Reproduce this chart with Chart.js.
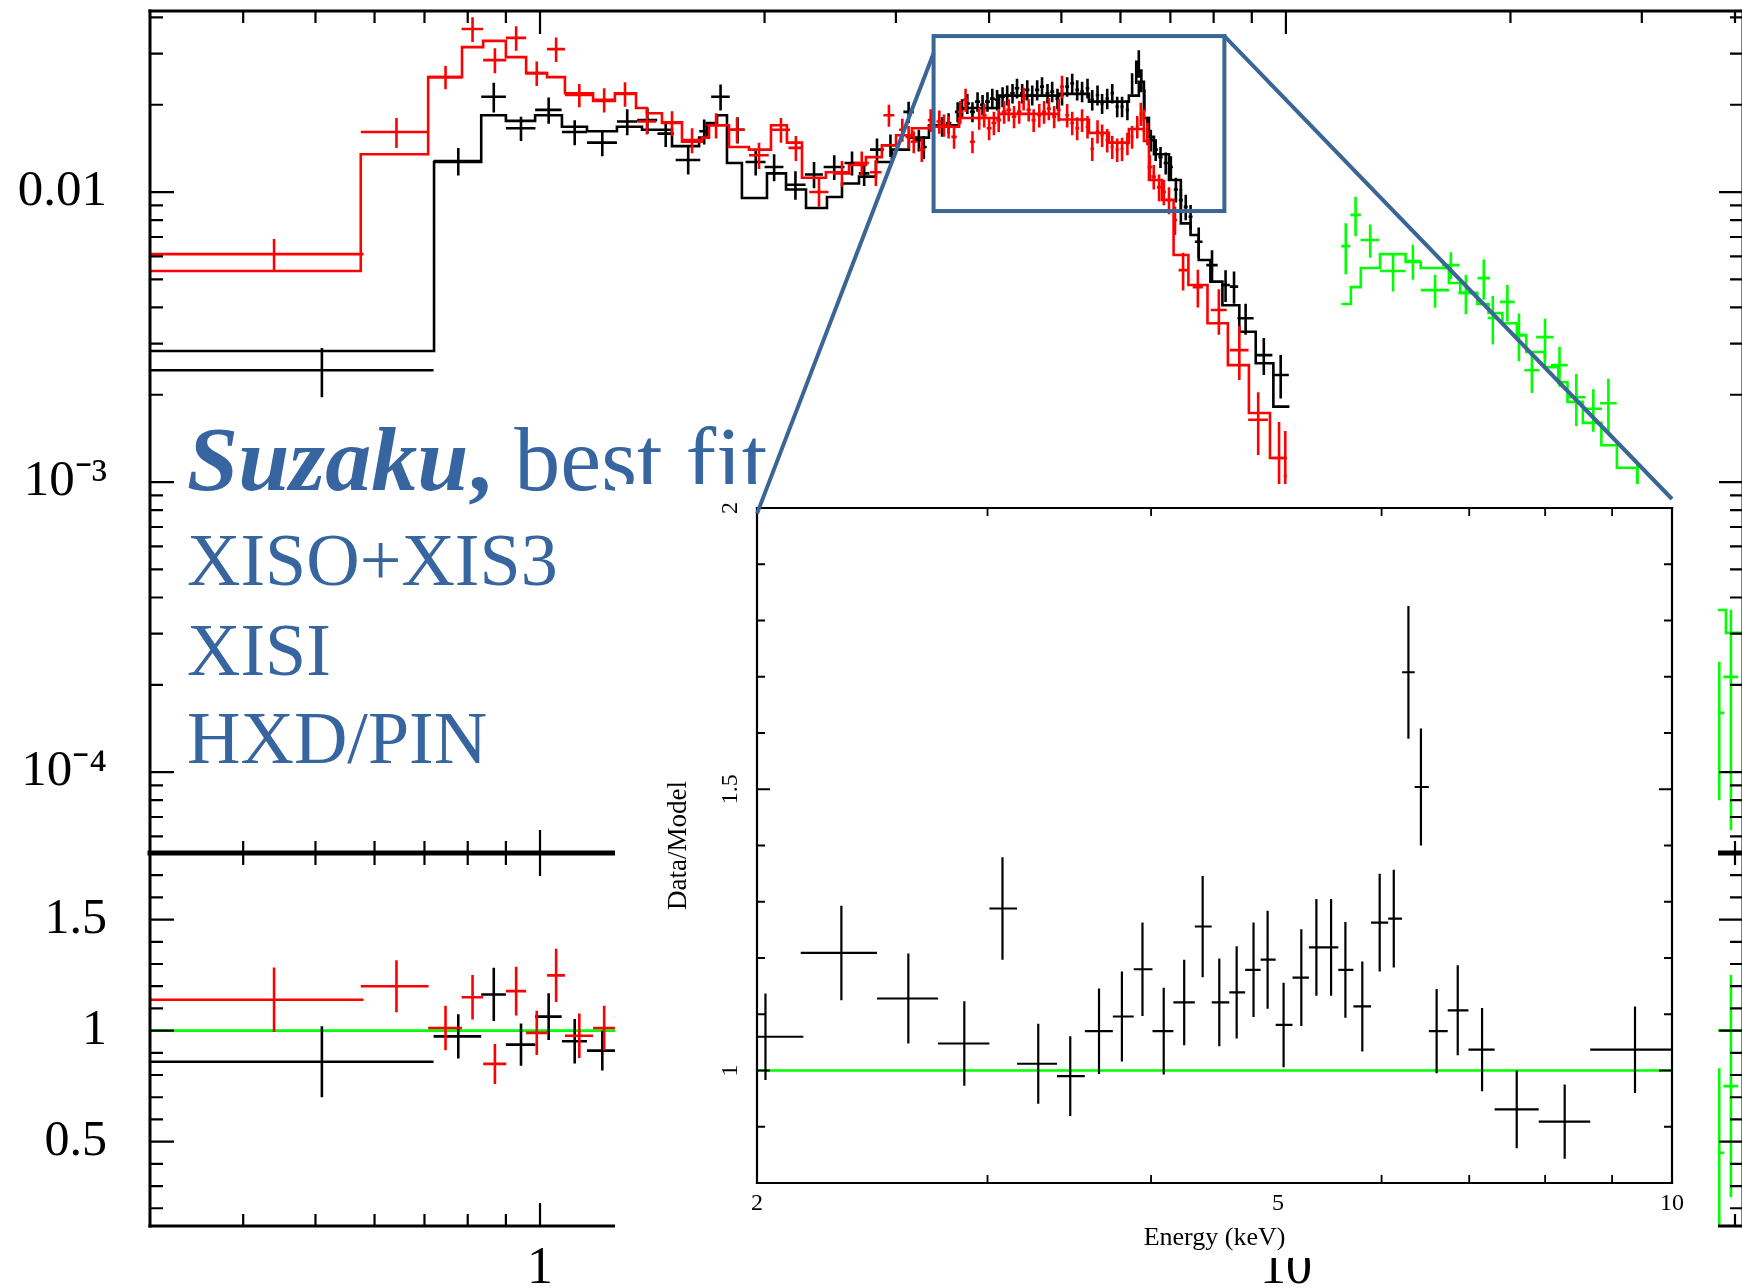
<!DOCTYPE html>
<html>
<head>
<meta charset="utf-8">
<script src="https://cdn.jsdelivr.net/npm/chart.js@4.4.1/dist/chart.umd.min.js"></script>
<style>
  html, body { margin: 0; padding: 0; background: #fff; overflow: hidden; }
  body { width: 1742px; height: 1288px; position: relative; }
  .layer { position: absolute; }
  #topPanel { left: 0; top: 0; z-index: 1; }
  #ratioPanel { left: 0; top: 800px; z-index: 1; }
  .note { position: absolute; z-index: 2; color: #36659f; font-family: "Liberation Serif", "Times New Roman", serif; line-height: 1; white-space: nowrap; }
  #inset { left: 615px; top: 484px; width: 1103px; height: 774px; background: #fff; z-index: 3; }
  #overlay { left: 0; top: 0; z-index: 4; pointer-events: none; }
</style>
</head>
<body>
<canvas id="topPanel" class="layer" width="1760" height="900"></canvas>
<canvas id="ratioPanel" class="layer" width="1760" height="488"></canvas>

<div class="note" style="left:187px; top:413px; font-size:92px;"><b><i>Suzaku</i>,</b> best fit</div>
<div class="note" style="left:187px; top:523px; font-size:74px;">XISO+XIS3</div>
<div class="note" style="left:187px; top:613px; font-size:74px;">XISI</div>
<div class="note" style="left:187px; top:701px; font-size:74px;">HXD/PIN</div>

<div id="inset" class="layer"><canvas id="insetChart" width="1103" height="774"></canvas></div>
<canvas id="overlay" class="layer" width="1742" height="1288"></canvas>

<script>
// axis ranges
const energyRange = [0.3, 41];
const fluxRange = [5.26e-5, 0.0421];
const ratioRange = [0.12, 1.8];
const insetEnergyRange = [2, 10];
const insetRatioRange = [0.8, 2];

// tick marks and tick labels
const energyMajor = [1, 10];
const energyMinor = [0.4, 0.5, 0.6, 0.7, 0.8, 0.9, 2, 3, 4, 5, 6, 7, 8, 9, 20, 30, 40];
const energyLabels = [1, 10];
const fluxMajor = [1e-4, 1e-3, 0.01];
const fluxMinor = [6e-5, 7e-5, 8e-5, 9e-5, 2e-4, 3e-4, 4e-4, 5e-4, 6e-4, 7e-4, 8e-4, 9e-4,
  0.002, 0.003, 0.004, 0.005, 0.006, 0.007, 0.008, 0.009, 0.02, 0.03, 0.04];
const fluxLabels = [1e-4, 1e-3, 0.01];
const fluxLabelText = ['10\u207B\u2074', '10\u207B\u00B3', '0.01'];
const ratioMajor = [0.5, 1, 1.5];
const ratioMinor = [0.2, 0.3, 0.4, 0.6, 0.7, 0.8, 0.9, 1.1, 1.2, 1.3, 1.4, 1.6, 1.7];
const ratioLabels = [0.5, 1, 1.5];
const insetEnergyMinor = [3, 4, 6, 7, 8, 9];
const insetEnergyLabels = [2, 5, 10];
const insetRatioMajor = [1, 1.5, 2];
const insetRatioMinor = [0.9, 1.1, 1.2, 1.3, 1.4, 1.6, 1.7, 1.8, 1.9];
const insetRatioLabels = [1, 1.5, 2];
const insetRatioLabelText = ['1', '1.5', '2'];

// XIS0+XIS3 spectrum (keV, counts/s/keV)
const xisE = [0.51, 0.777, 0.867, 0.943, 1.027, 1.113, 1.212, 1.309, 1.393, 1.474,
  1.58, 1.66, 1.746, 1.84, 1.946, 2.06, 2.20, 2.33, 2.48, 2.62,
  2.72, 2.83, 2.95, 3.12, 3.22, 3.27,
  3.46, 3.53, 3.63, 3.68, 3.74, 3.80, 3.86, 3.92, 3.98, 4.04,
  4.10, 4.17, 4.23, 4.30, 4.36, 4.43, 4.50, 4.57, 4.64, 4.71,
  4.79, 4.86, 4.94, 5.01, 5.09, 5.17, 5.25, 5.33, 5.42, 5.50,
  5.59, 5.67, 5.76, 5.85, 5.94, 6.03, 6.13, 6.22, 6.30, 6.35,
  6.40, 6.46, 6.52, 6.59, 6.69, 6.79, 6.90, 7.01, 7.12, 7.23,
  7.34, 7.45, 7.64, 7.96, 8.30, 8.52, 8.83, 9.34, 9.84];
const xisDE = [0.21, 0.057, 0.033, 0.043, 0.042, 0.043, 0.056, 0.041, 0.043, 0.037,
  0.06, 0.025, 0.05, 0.04, 0.06, 0.06, 0.07, 0.065, 0.08, 0.06,
  0.045, 0.06, 0.06, 0.05, 0.04, 0.03,
  0.03, 0.03, 0.03, 0.03, 0.03, 0.03, 0.03, 0.03, 0.03, 0.03,
  0.03, 0.03, 0.03, 0.03, 0.03, 0.03, 0.03, 0.03, 0.03, 0.03,
  0.03, 0.03, 0.03, 0.03, 0.03, 0.03, 0.03, 0.03, 0.03, 0.03,
  0.03, 0.03, 0.03, 0.03, 0.03, 0.03, 0.03, 0.025, 0.025, 0.025,
  0.025, 0.025, 0.025, 0.045, 0.045, 0.045, 0.045, 0.045, 0.045, 0.045,
  0.045, 0.045, 0.09, 0.14, 0.11, 0.11, 0.22, 0.25, 0.25];
const xisF = [0.00243, 0.0128, 0.0213, 0.0166, 0.0192, 0.0161, 0.0148, 0.0175, 0.0177, 0.0159,
  0.0129, 0.0162, 0.0213, 0.0164, 0.0127, 0.0122, 0.0106, 0.0115, 0.0122, 0.0126,
  0.0116, 0.0140, 0.0145, 0.0189, 0.0151, 0.0143,
  0.0168, 0.0173, 0.0189, 0.0194, 0.0202, 0.0189, 0.0205, 0.0200, 0.0205, 0.0210,
  0.0208, 0.0213, 0.0216, 0.0219, 0.0228, 0.0219, 0.0225, 0.0216, 0.0225, 0.0231,
  0.0219, 0.0222, 0.0210, 0.0216, 0.0231, 0.0237, 0.0225, 0.0222, 0.0228, 0.0208,
  0.0216, 0.0202, 0.0210, 0.0219, 0.0197, 0.0197, 0.0192, 0.0237, 0.0260, 0.0278,
  0.0243, 0.0208, 0.0168, 0.0151, 0.0140, 0.0132, 0.0126, 0.0122, 0.0102, 0.00938,
  0.00889, 0.00822, 0.00674, 0.00560, 0.00478, 0.00472, 0.00367, 0.00274, 0.00234];
const xisErr = [0.00047, 0.0014, 0.0025, 0.0016, 0.0020, 0.0016, 0.0015, 0.0018, 0.0018, 0.0016,
  0.0014, 0.0016, 0.0022, 0.0017, 0.0013, 0.0013, 0.0012, 0.0012, 0.0012, 0.0012,
  0.0011, 0.0013, 0.0013, 0.0016, 0.0013, 0.0013,
  0.0013, 0.0014, 0.0015, 0.0015, 0.0016, 0.0015, 0.0016, 0.0016, 0.0016, 0.0017,
  0.0017, 0.0017, 0.0017, 0.0017, 0.0018, 0.0017, 0.0018, 0.0017, 0.0018, 0.0018,
  0.0017, 0.0018, 0.0017, 0.0017, 0.0018, 0.0019, 0.0018, 0.0018, 0.0018, 0.0017,
  0.0017, 0.0016, 0.0017, 0.0017, 0.0016, 0.0016, 0.0015, 0.0020, 0.0024, 0.0030,
  0.0022, 0.0018, 0.0014, 0.0013, 0.0012, 0.0011, 0.0011, 0.0011, 0.0010, 0.0009,
  0.0009, 0.0008, 0.0008, 0.0007, 0.0006, 0.0006, 0.00045, 0.0004, 0.0004];
const xisModelEdges = [0.30, 0.721, 0.834, 0.900, 0.985, 1.070, 1.156, 1.268, 1.370, 1.503,
  1.634, 1.673, 1.727, 1.781, 1.865, 2.015, 2.137, 2.273, 2.425, 2.540,
  2.677, 2.821, 2.963, 3.123, 3.322, 3.645, 4.124, 4.962, 5.444, 6.158,
  6.351, 6.451, 6.552, 6.654, 6.970, 7.23, 7.45, 7.64, 7.92, 8.22,
  8.66, 9.11, 9.62, 10.11];
const xisModel = [0.00283, 0.0127, 0.0184, 0.0176, 0.0184, 0.0168, 0.0162, 0.0168, 0.0164,
  0.0144, 0.0154, 0.0173, 0.0184, 0.0126, 0.00954, 0.0116, 0.0102, 0.00881, 0.00962,
  0.0107, 0.0113, 0.0127, 0.0140, 0.0154, 0.0170, 0.0195, 0.0215, 0.0218, 0.0205,
  0.0215, 0.0240, 0.0180, 0.0155, 0.0135, 0.0110, 0.00780, 0.00711, 0.00583, 0.00491,
  0.00407, 0.00330, 0.00257, 0.00182];

// XIS1 spectrum
const xis1E = [0.44, 0.642, 0.747, 0.812, 0.870, 0.929, 0.990, 1.051, 1.129, 1.219,
  1.30, 1.391, 1.503, 1.599, 1.722, 1.837, 1.966, 2.104, 2.203, 2.366,
  2.54, 2.70, 2.82, 2.936,
  3.06, 3.12, 3.17, 3.25, 3.34, 3.43, 3.48, 3.53, 3.59, 3.66,
  3.72, 3.80, 3.88, 3.94, 4.00, 4.06, 4.12, 4.19, 4.25, 4.32,
  4.39, 4.45, 4.52, 4.59, 4.67, 4.74, 4.81, 4.89, 4.96, 5.01,
  5.09, 5.17, 5.25, 5.33, 5.42, 5.50, 5.59, 5.67, 5.76, 5.85,
  5.94, 6.03, 6.13, 6.22, 6.32, 6.39, 6.45, 6.52, 6.57, 6.65,
  6.76, 6.86, 6.97, 7.10,
  7.28, 7.62, 8.13, 8.66, 9.18, 9.79, 9.98];
const xis1DE = [0.14, 0.067, 0.039, 0.027, 0.031, 0.029, 0.032, 0.029, 0.049, 0.041,
  0.04, 0.04, 0.05, 0.045, 0.05, 0.045, 0.06, 0.06, 0.05, 0.07,
  0.07, 0.06, 0.05, 0.05,
  0.03, 0.03, 0.03, 0.03, 0.03, 0.03, 0.03, 0.03, 0.03, 0.03,
  0.03, 0.03, 0.03, 0.03, 0.03, 0.03, 0.03, 0.03, 0.03, 0.03,
  0.03, 0.03, 0.03, 0.03, 0.03, 0.03, 0.03, 0.03, 0.03, 0.03,
  0.03, 0.03, 0.03, 0.03, 0.03, 0.03, 0.03, 0.03, 0.03, 0.03,
  0.03, 0.03, 0.03, 0.03, 0.03, 0.03, 0.03, 0.03, 0.045, 0.045,
  0.045, 0.045, 0.045, 0.045,
  0.1, 0.12, 0.2, 0.25, 0.28, 0.2, 0.05];
const xis1F = [0.00611, 0.0161, 0.0249, 0.0365, 0.0285, 0.0340, 0.0257, 0.0311, 0.0216, 0.0208,
  0.0218, 0.0175, 0.0173, 0.0151, 0.0170, 0.0164, 0.0134, 0.0164, 0.0142, 0.0100,
  0.0116, 0.0126, 0.0117, 0.0184,
  0.0164, 0.0155, 0.0149, 0.0140, 0.0177, 0.0175, 0.0170, 0.0168, 0.0155, 0.0189,
  0.0208, 0.0149, 0.0180, 0.0184, 0.0166, 0.0173, 0.0177, 0.0189, 0.0192, 0.0182,
  0.0189, 0.0210, 0.0192, 0.0177, 0.0184, 0.0189, 0.0194, 0.0182, 0.0192, 0.0231,
  0.0184, 0.0173, 0.0166, 0.0177, 0.0168, 0.0141, 0.0162, 0.0157, 0.0151, 0.0143,
  0.0140, 0.0141, 0.0147, 0.0155, 0.0168, 0.0186, 0.0177, 0.0159, 0.0122, 0.0113,
  0.0104, 0.0100, 0.00938, 0.00801,
  0.00538, 0.00470, 0.00392, 0.00285, 0.00164, 0.00121, 0.00105];
const xis1Err = [0.00078, 0.0019, 0.0023, 0.0036, 0.0028, 0.0033, 0.0025, 0.0030, 0.0020, 0.0020,
  0.0021, 0.0017, 0.0017, 0.0015, 0.0017, 0.0016, 0.0014, 0.0016, 0.0014, 0.0011,
  0.0012, 0.0012, 0.0012, 0.0016,
  0.0015, 0.0014, 0.0013, 0.0013, 0.0016, 0.0016, 0.0015, 0.0015, 0.0014, 0.0017,
  0.0019, 0.0013, 0.0016, 0.0017, 0.0015, 0.0016, 0.0016, 0.0017, 0.0017, 0.0016,
  0.0017, 0.0019, 0.0017, 0.0016, 0.0017, 0.0017, 0.0017, 0.0016, 0.0017, 0.0021,
  0.0017, 0.0016, 0.0015, 0.0016, 0.0015, 0.0013, 0.0015, 0.0014, 0.0014, 0.0013,
  0.0013, 0.0013, 0.0013, 0.0014, 0.0015, 0.0017, 0.0016, 0.0014, 0.0012, 0.0011,
  0.0011, 0.0010, 0.0010, 0.0009,
  0.0008, 0.0007, 0.0007, 0.0006, 0.0004, 0.0004, 0.00045];
const xis1ModelEdges = [0.30, 0.575, 0.708, 0.786, 0.839, 0.900, 0.958, 1.022, 1.080, 1.178,
  1.26, 1.345, 1.391, 1.457, 1.550, 1.649, 1.685, 1.792, 1.906, 2.040,
  2.143, 2.245, 2.417, 2.596, 2.735, 2.873, 3.001, 3.152, 3.322, 3.645,
  4.124, 4.962, 5.444, 5.79, 6.158, 6.451, 6.552, 6.82, 7.07, 7.40,
  7.85, 8.36, 8.92, 9.52, 10.03];
const xis1Model = [0.00534, 0.0135, 0.0249, 0.0316, 0.0332, 0.0292, 0.0257, 0.0249, 0.0219, 0.0206,
  0.0219, 0.0195, 0.0187, 0.0174, 0.0149, 0.0154, 0.0170, 0.0143, 0.0140, 0.0170,
  0.0148, 0.0112, 0.0117, 0.0124, 0.0132, 0.0145, 0.0157, 0.0166, 0.0168, 0.0180,
  0.0186, 0.0178, 0.0160, 0.0148, 0.0165, 0.0150, 0.0110, 0.0094, 0.00607, 0.00478,
  0.00353, 0.00253, 0.00173, 0.00121];

// HXD/PIN spectrum
const pinE = [12.03, 12.40, 12.97, 13.92, 14.80, 15.85, 16.64, 17.43, 18.42, 18.94,
  19.81, 20.53, 21.37, 22.25, 23.27, 24.51, 25.83, 27.06, 29.6, 38.1, 39.5];
const pinDE = [0.17, 0.2, 0.38, 0.55, 0.35, 0.69, 0.45, 0.4, 0.35, 0.3,
  0.45, 0.4, 0.5, 0.6, 0.6, 0.7, 0.7, 0.7, 0.9, 0.6, 0.9];
const pinF = [0.00651, 0.00834, 0.00683, 0.00534, 0.00578, 0.00459, 0.00560, 0.00449, 0.00505, 0.00368,
  0.00418, 0.00321, 0.00243, 0.00316, 0.00253, 0.00196, 0.00179, 0.00187, 0.0008, 0.00016, 0.000213];
const pinErr = [0.0013, 0.0013, 0.0009, 0.0008, 0.0008, 0.0006, 0.0006, 0.0007, 0.0008, 0.0007,
  0.0006, 0.0006, 0.0004, 0.0005, 0.0004, 0.0004, 0.0003, 0.0004, 0.00035, 0.00008, 0.00015];
const pinModelEdges = [11.87, 12.22, 12.60, 13.37, 14.47, 15.16, 16.54, 17.13, 18.05, 18.69,
  19.51, 20.40, 21.0, 22.24, 23.18, 23.85, 25.01, 26.48, 27.78, 29.57,
  31.6, 34.0, 36.5, 38.9, 41];
const pinModel = [0.00411, 0.00470, 0.00547, 0.00611, 0.00574, 0.00547, 0.00486, 0.00449, 0.00411, 0.00383,
  0.00353, 0.00321, 0.00281, 0.00249, 0.00221, 0.00189, 0.00160, 0.00134, 0.00112, 0.00085,
  0.00065, 0.00049, 0.000362, 0.000302];

// data/model ratios, lower panel
const xisRatioE = [0.51, 0.777, 0.867, 0.943, 1.027, 1.113, 1.212];
const xisRatioDE = [0.21, 0.057, 0.033, 0.043, 0.042, 0.043, 0.056];
const xisRatio = [0.86, 0.974, 1.163, 0.937, 1.063, 0.952, 0.91];
const xisRatioErr = [0.16, 0.10, 0.12, 0.095, 0.105, 0.10, 0.09];
const xis1RatioE = [0.44, 0.642, 0.747, 0.812, 0.870, 0.929, 0.990, 1.051, 1.129, 1.219, 1.30];
const xis1RatioDE = [0.14, 0.067, 0.039, 0.027, 0.031, 0.029, 0.032, 0.029, 0.049, 0.041, 0.04];
const xis1Ratio = [1.139, 1.20, 1.012, 1.15, 0.85, 1.178, 0.99, 1.249, 0.977, 1.012, 1.06];
const xis1RatioErr = [0.145, 0.117, 0.10, 0.10, 0.09, 0.11, 0.10, 0.12, 0.10, 0.10, 0.10];
const pinRatioE = [38.1, 39.5];
const pinRatioDE = [0.6, 0.9];
const pinRatio = [0.45, 0.75];
const pinRatioErr = [0.38, 0.5];
const unityRatio = 1;

// 2-10 keV XIS0+XIS3 ratio, inset
const insetE = [2.03, 2.32, 2.61, 2.88, 3.08, 3.28, 3.47, 3.65, 3.80, 3.94,
  4.09, 4.24, 4.38, 4.51, 4.65, 4.79, 4.91, 5.05, 5.21, 5.35,
  5.49, 5.63, 5.80, 5.98, 6.13, 6.29, 6.43, 6.61, 6.86, 7.16,
  7.61, 8.28, 9.37];
const insetLo = [2.00, 2.16, 2.47, 2.75, 3.01, 3.16, 3.39, 3.56, 3.74, 3.88,
  4.01, 4.16, 4.32, 4.45, 4.59, 4.72, 4.85, 4.98, 5.13, 5.28,
  5.42, 5.56, 5.71, 5.89, 6.07, 6.22, 6.36, 6.52, 6.74, 6.99,
  7.32, 7.91, 8.66];
const insetHi = [2.17, 2.47, 2.75, 3.01, 3.16, 3.39, 3.56, 3.74, 3.88, 4.01,
  4.16, 4.32, 4.45, 4.59, 4.72, 4.85, 4.98, 5.13, 5.28, 5.42,
  5.56, 5.71, 5.89, 6.07, 6.22, 6.36, 6.52, 6.74, 6.99, 7.32,
  7.91, 8.66, 10.0];
const insetRatio = [1.060, 1.209, 1.128, 1.048, 1.288, 1.012, 0.990, 1.070, 1.096, 1.180,
  1.070, 1.121, 1.256, 1.121, 1.139, 1.179, 1.197, 1.081, 1.165, 1.219,
  1.219, 1.179, 1.114, 1.263, 1.270, 1.708, 1.504, 1.070, 1.107, 1.037,
  0.931, 0.909, 1.037];
const insetErr = [0.077, 0.084, 0.080, 0.075, 0.091, 0.071, 0.071, 0.076, 0.080, 0.083,
  0.077, 0.076, 0.090, 0.078, 0.082, 0.084, 0.087, 0.075, 0.086, 0.086,
  0.086, 0.085, 0.080, 0.087, 0.087, 0.118, 0.104, 0.075, 0.080, 0.074,
  0.069, 0.066, 0.077];

// zoom box (keV, counts/s/keV) and where its connectors land on the inset
const zoomBoxEnergy = [3.37, 8.27];
const zoomBoxFlux = [0.0086, 0.0345];
const zoomLinkFlux = 0.0301;
const insetLinkLeft = [2, 1.99];
const insetLinkRight = [10, 2.016];

const BLACK = '#000000', RED = '#ff0000', GREEN = '#00ff00', NOTE_BLUE = '#3a6696';

function crosses(E, dE, V, dV) {
  return E.map((e, i) => ({ x: e, y: V[i], xMin: e - dE[i], xMax: e + dE[i], yMin: V[i] - dV[i], yMax: V[i] + dV[i] }));
}
function crossesLoHi(E, lo, hi, V, dV) {
  return E.map((e, i) => ({ x: e, y: V[i], xMin: lo[i], xMax: hi[i], yMin: V[i] - dV[i], yMax: V[i] + dV[i] }));
}
function steps(edges, vals) {
  const pts = [];
  vals.forEach((v, i) => { pts.push({ x: edges[i], y: v }, { x: edges[i + 1], y: v }); });
  return pts;
}
function dataSet(points, color, width) {
  return { data: points, borderColor: color, pointRadius: 0, crossWidth: width, crosses: true };
}
function modelSet(points, color, width) {
  return { data: points, borderColor: color, borderWidth: width, pointRadius: 0, showLine: true, fill: false };
}
// keep the plot box exactly where the layout padding puts it
function fixWidth(w) {
  return s => { s.width = w; s.paddingTop = 0; s.paddingBottom = 0; };
}
function fixHeight(h) {
  return s => { s.height = h; s.paddingLeft = 0; s.paddingRight = 0; };
}

// draws each dataset's error crosses right after the dataset itself
const errorBars = {
  id: 'errorBars',
  afterDatasetDraw(chart, args) {
    const ds = chart.data.datasets[args.index];
    if (!ds.crosses) return;
    const { ctx, chartArea: a } = chart;
    const xs = chart.scales.x, ys = chart.scales.y;
    ctx.save();
    ctx.beginPath();
    ctx.rect(a.left, a.top, a.right - a.left, a.bottom - a.top);
    ctx.clip();
    ctx.strokeStyle = ds.borderColor;
    ctx.lineWidth = ds.crossWidth;
    ctx.beginPath();
    ds.data.forEach(p => {
      const px = xs.getPixelForValue(p.x), py = ys.getPixelForValue(p.y);
      ctx.moveTo(xs.getPixelForValue(p.xMin), py);
      ctx.lineTo(xs.getPixelForValue(p.xMax), py);
      ctx.moveTo(px, ys.getPixelForValue(Math.max(p.yMin, ys.min * 0.5)));
      ctx.lineTo(px, ys.getPixelForValue(p.yMax));
    });
    ctx.stroke();
    ctx.restore();
  }
};

// box frame with inward tick marks, plus optional rotated y labels
const frame = {
  id: 'frame',
  afterDraw(chart, args, o) {
    if (!o || !o.ticks) return;
    const { ctx, chartArea: a, scales } = chart;
    ctx.save();
    ctx.strokeStyle = BLACK;
    o.ticks.forEach(t => {
      const s = scales[t.axis];
      ctx.lineWidth = t.width;
      ctx.beginPath();
      t.values.forEach(v => {
        const p = s.getPixelForValue(v);
        if (t.axis === 'x') {
          if (t.sides.includes('top')) { ctx.moveTo(p, a.top); ctx.lineTo(p, a.top + t.len); }
          if (t.sides.includes('bottom')) { ctx.moveTo(p, a.bottom); ctx.lineTo(p, a.bottom - t.len); }
        } else {
          if (t.sides.includes('left')) { ctx.moveTo(a.left, p); ctx.lineTo(a.left + t.len, p); }
          if (t.sides.includes('right')) { ctx.moveTo(a.right, p); ctx.lineTo(a.right - t.len, p); }
        }
      });
      ctx.stroke();
    });
    const b = o.border;
    ctx.lineCap = 'square';
    const edge = (w, x0, y0, x1, y1) => {
      if (!w) return;
      ctx.lineWidth = w;
      ctx.beginPath(); ctx.moveTo(x0, y0); ctx.lineTo(x1, y1); ctx.stroke();
    };
    edge(b.top, a.left, a.top, a.right, a.top);
    edge(b.bottom, a.left, a.bottom, a.right, a.bottom);
    edge(b.left, a.left, a.top, a.left, a.bottom);
    edge(b.right, a.right, a.top, a.right, a.bottom);
    if (o.sideLabels) {
      const L = o.sideLabels, s = scales.y;
      ctx.fillStyle = BLACK;
      ctx.font = L.font;
      ctx.textAlign = 'center';
      ctx.textBaseline = 'middle';
      L.values.forEach((v, i) => {
        ctx.save();
        ctx.translate(a.left - L.offset, s.getPixelForValue(v));
        ctx.rotate(-Math.PI / 2);
        ctx.fillText(L.text[i], 0, 0);
        ctx.restore();
      });
    }
    ctx.restore();
  }
};

Chart.register(errorBars, frame);
Chart.defaults.font.family = '"Liberation Serif", "Times New Roman", serif';
Chart.defaults.color = BLACK;

const quiet = { legend: { display: false }, tooltip: { enabled: false } };

// upper panel: folded spectra
const topChart = new Chart(document.getElementById('topPanel'), {
  type: 'scatter',
  data: {
    datasets: [
      dataSet(crosses(pinE, pinDE, pinF, pinErr), GREEN, 2.6),
      modelSet(steps(pinModelEdges, pinModel), GREEN, 2.6),
      dataSet(crosses(xis1E, xis1DE, xis1F, xis1Err), RED, 2.6),
      modelSet(steps(xis1ModelEdges, xis1Model), RED, 2.6),
      dataSet(crosses(xisE, xisDE, xisF, xisErr), BLACK, 2.6),
      modelSet(steps(xisModelEdges, xisModel), BLACK, 2.6)
    ]
  },
  options: {
    responsive: false, animation: false, events: [],
    layout: { padding: { top: 11, right: 17, bottom: 47, left: 0 } },
    plugins: {
      ...quiet,
      frame: {
        border: { top: 3, bottom: 3, left: 3, right: 3 },
        ticks: [
          { axis: 'x', values: energyMajor, len: 23, width: 2.2, sides: ['top', 'bottom'] },
          { axis: 'x', values: energyMinor, len: 12, width: 2.2, sides: ['top', 'bottom'] },
          { axis: 'y', values: fluxMajor, len: 24, width: 2.2, sides: ['left', 'right'] },
          { axis: 'y', values: fluxMinor, len: 13, width: 2.2, sides: ['left', 'right'] }
        ]
      }
    },
    scales: {
      x: { type: 'logarithmic', min: energyRange[0], max: energyRange[1], display: false },
      y: {
        type: 'logarithmic', min: fluxRange[0], max: fluxRange[1],
        afterFit: fixWidth(150),
        afterBuildTicks: s => { s.ticks = fluxLabels.map(v => ({ value: v })); },
        grid: { display: false, drawTicks: false },
        border: { display: false },
        ticks: { autoSkip: false, padding: 43, font: { size: 51 }, callback: (v, i) => fluxLabelText[i] }
      }
    }
  }
});

// lower panel: data/model ratios
new Chart(document.getElementById('ratioPanel'), {
  type: 'scatter',
  data: {
    datasets: [
      dataSet(crosses(pinRatioE, pinRatioDE, pinRatio, pinRatioErr), GREEN, 2.6),
      dataSet(crosses(xis1RatioE, xis1RatioDE, xis1Ratio, xis1RatioErr), RED, 2.6),
      dataSet(crosses(xisRatioE, xisRatioDE, xisRatio, xisRatioErr), BLACK, 2.6),
      modelSet([{ x: energyRange[0], y: unityRatio }, { x: energyRange[1], y: unityRatio }], GREEN, 2.8)
    ]
  },
  options: {
    responsive: false, animation: false, events: [],
    layout: { padding: { top: 53, right: 17, bottom: 0, left: 0 } },
    plugins: {
      ...quiet,
      frame: {
        border: { top: 5, bottom: 3, left: 3, right: 3 },
        ticks: [
          { axis: 'x', values: energyMajor, len: 23, width: 2.2, sides: ['top', 'bottom'] },
          { axis: 'x', values: energyMinor, len: 12, width: 2.2, sides: ['top', 'bottom'] },
          { axis: 'y', values: ratioMajor, len: 24, width: 2.2, sides: ['left', 'right'] },
          { axis: 'y', values: ratioMinor, len: 13, width: 2.2, sides: ['left', 'right'] }
        ]
      }
    },
    scales: {
      x: {
        type: 'logarithmic', min: energyRange[0], max: energyRange[1],
        afterFit: fixHeight(62),
        afterBuildTicks: s => { s.ticks = energyLabels.map(v => ({ value: v })); },
        grid: { display: false, drawTicks: false },
        border: { display: false },
        ticks: { autoSkip: false, maxRotation: 0, padding: 12, font: { size: 52 }, callback: v => String(v) }
      },
      y: {
        min: ratioRange[0], max: ratioRange[1],
        afterFit: fixWidth(150),
        afterBuildTicks: s => { s.ticks = ratioLabels.map(v => ({ value: v })); },
        grid: { display: false, drawTicks: false },
        border: { display: false },
        ticks: { autoSkip: false, padding: 43, font: { size: 50 }, callback: v => String(v) }
      }
    }
  }
});

// inset: 2-10 keV ratio
const insetChart = new Chart(document.getElementById('insetChart'), {
  type: 'scatter',
  data: {
    datasets: [
      dataSet(crossesLoHi(insetE, insetLo, insetHi, insetRatio, insetErr), BLACK, 2.2),
      modelSet([{ x: insetEnergyRange[0], y: unityRatio }, { x: insetEnergyRange[1], y: unityRatio }], GREEN, 2.4)
    ]
  },
  options: {
    responsive: false, animation: false, events: [],
    layout: { padding: { top: 24, right: 46, bottom: 0, left: 0 } },
    plugins: {
      ...quiet,
      frame: {
        border: { top: 2.2, bottom: 2.2, left: 2.2, right: 2.2 },
        ticks: [
          { axis: 'x', values: insetEnergyMinor, len: 8, width: 1.8, sides: ['top', 'bottom'] },
          { axis: 'y', values: insetRatioMajor, len: 13, width: 1.8, sides: ['left', 'right'] },
          { axis: 'y', values: insetRatioMinor, len: 8, width: 1.8, sides: ['left', 'right'] }
        ],
        sideLabels: { values: insetRatioLabels, text: insetRatioLabelText, offset: 26, font: '24px "Liberation Serif", serif' }
      }
    },
    scales: {
      x: {
        type: 'logarithmic', min: insetEnergyRange[0], max: insetEnergyRange[1],
        afterFit: fixHeight(75),
        afterBuildTicks: s => { s.ticks = insetEnergyLabels.map(v => ({ value: v })); },
        grid: { display: false, drawTicks: false },
        border: { display: false },
        ticks: { autoSkip: false, maxRotation: 0, padding: 6, font: { size: 24 }, callback: v => String(v) },
        title: { display: true, text: 'Energy (keV)', font: { size: 26 }, padding: { top: 2, bottom: 4 } }
      },
      y: {
        min: insetRatioRange[0], max: insetRatioRange[1],
        afterFit: fixWidth(142),
        grid: { display: false, drawTicks: false },
        border: { display: false },
        ticks: { display: false },
        title: { display: true, text: 'Data/Model', font: { size: 27 }, padding: { top: 48, bottom: 0 } }
      }
    }
  }
});

// blue zoom box on the upper panel and its connectors to the inset
(function drawZoomLinks() {
  const ctx = document.getElementById('overlay').getContext('2d');
  const holder = document.getElementById('inset');
  const ox = holder.offsetLeft, oy = holder.offsetTop;
  const tx = topChart.scales.x, ty = topChart.scales.y;
  const ix = insetChart.scales.x, iy = insetChart.scales.y;
  const x0 = tx.getPixelForValue(zoomBoxEnergy[0]), x1 = tx.getPixelForValue(zoomBoxEnergy[1]);
  const y0 = ty.getPixelForValue(zoomBoxFlux[1]), y1 = ty.getPixelForValue(zoomBoxFlux[0]);
  ctx.strokeStyle = NOTE_BLUE;
  ctx.lineWidth = 4;
  ctx.strokeRect(x0, y0, x1 - x0, y1 - y0);
  ctx.beginPath();
  ctx.moveTo(x0, ty.getPixelForValue(zoomLinkFlux));
  ctx.lineTo(ox + ix.getPixelForValue(insetLinkLeft[0]), oy + iy.getPixelForValue(insetLinkLeft[1]));
  ctx.moveTo(x1, y0);
  ctx.lineTo(ox + ix.getPixelForValue(insetLinkRight[0]), oy + iy.getPixelForValue(insetLinkRight[1]));
  ctx.stroke();
})();
</script>
</body>
</html>
